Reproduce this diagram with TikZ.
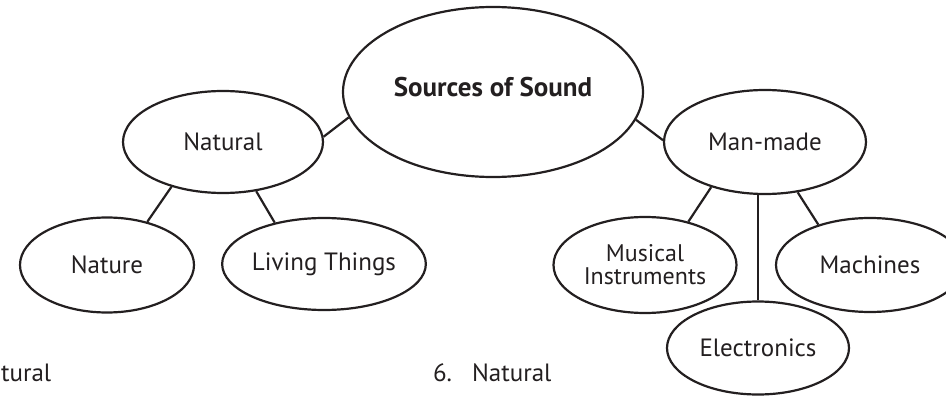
\documentclass[tikz,border=0pt]{standalone}
\usepackage{fontspec}
\setmainfont{PT Sans}
\usetikzlibrary{shapes.geometric}
\definecolor{ink}{HTML}{231F20}
\begin{document}
\begin{tikzpicture}[x=1pt,y=-1pt, line width=2.2pt, draw=ink, text=ink,
  bubble/.style={ellipse, draw=ink, inner sep=0pt, align=center, font=\fontsize{25}{28}\selectfont},
  answer/.style={anchor=base west, inner sep=0pt, font=\fontsize{25}{28}\selectfont}]
\useasboundingbox (0,0) rectangle (946,396);

\node[bubble, minimum width=300pt, minimum height=170pt, font=\bfseries\fontsize{27}{30}\selectfont] (src) at (493,92) {\raisebox{10pt}{Sources of Sound}};

\node[bubble, minimum width=200pt, minimum height=102pt] (nat) at (223,142) {Natural};
\node[bubble, minimum width=202pt, minimum height=104pt] (man) at (765,142) {Man-made};

\node[bubble, minimum width=174pt, minimum height=95pt] (nature) at (107,265) {Nature};
\node[bubble, minimum width=181pt, minimum height=92pt] (living) at (324,264) {Living Things};

\node[bubble, minimum width=183pt, minimum height=96pt, font=\fontsize{24}{23}\selectfont] (music) at (645,265) {Musical\\Instruments};
\node[bubble, minimum width=188pt, minimum height=94pt] (machine) at (870,265) {Machines};
\node[bubble, minimum width=182pt, minimum height=93pt] (elec) at (758,348) {Electronics};

\draw[](nat.3) -- (src.190);
\draw[](src.349) -- (man.179);

\draw[](nat.221) -- (nature.47);
\draw[](nat.304) -- (living.140);

\draw[](man.220) -- (music.45);
\draw[](elec.north) -- (elec.north |- man.south);
\draw[](man.303) -- (machine.142);

\node[answer] (ans5) at (0,381) {tural};
\node[answer] (ans6) at (432,381) {6.\hspace{20pt}Natural};

\end{tikzpicture}
\end{document}
